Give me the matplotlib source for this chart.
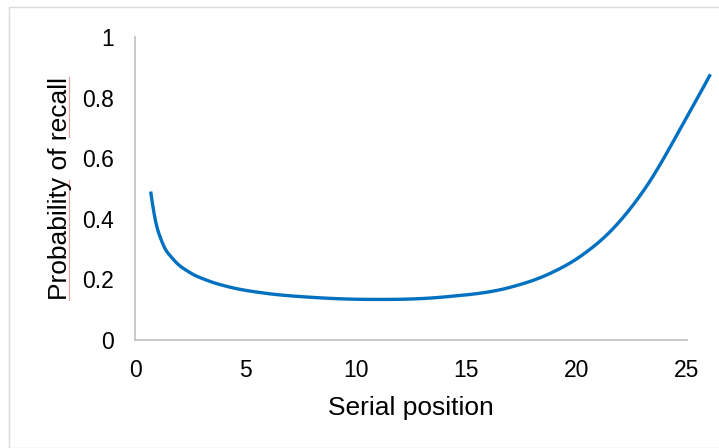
import matplotlib
matplotlib.use("Agg")
import matplotlib.pyplot as plt
import numpy as np
from matplotlib.patches import Rectangle
from matplotlib.lines import Line2D

# values
serial_pos = [0.71, 0.91, 1.25, 1.74, 2.5, 3.26, 4.32, 5.83, 7.95, 10.5, 14.0, 17.0,
              18.64, 20.15, 21.67, 23.1, 24.92, 26.06]
p_recall = [0.490, 0.400, 0.319, 0.266, 0.222, 0.197, 0.174, 0.155, 0.141, 0.134, 0.142,
            0.174, 0.2145, 0.275, 0.369, 0.500, 0.726, 0.877]
x_ticks = [0, 5, 10, 15, 20, 25]
y_ticks = [0, 0.2, 0.4, 0.6, 0.8, 1]
y_tick_labels = ["0", "0.2", "0.4", "0.6", "0.8", "1"]


def smooth(xs, ys, n=60):
    """ cubic Hermite through the points, slopes from np.gradient """
    xs = np.asarray(xs, float)
    ys = np.asarray(ys, float)
    m = np.gradient(ys, xs, edge_order=2)
    outx, outy = [], []
    for i in range(len(xs) - 1):
        h = xs[i + 1] - xs[i]
        t = np.linspace(0, 1, n)
        h00 = 2 * t**3 - 3 * t**2 + 1
        h10 = t**3 - 2 * t**2 + t
        h01 = -2 * t**3 + 3 * t**2
        h11 = t**3 - t**2
        outx.append(xs[i] + t * h)
        outy.append(h00 * ys[i] + h10 * h * m[i] + h01 * ys[i + 1] + h11 * h * m[i + 1])
    return np.concatenate(outx), np.concatenate(outy)


plt.rcParams['font.family'] = ['Liberation Sans', 'DejaVu Sans']

W, H = 719, 448
fig = plt.figure(figsize=(W / 100, H / 100), dpi=100)

# chart area border (runs off the right and bottom of the picture)
fig.patches.append(Rectangle((9 / W, 0), 1.0, 1 - 7 / H, transform=fig.transFigure,
                             fill=False, edgecolor='#D9D9D9', linewidth=1))

ax = fig.add_axes([135 / W, (H - 340) / H, 552 / W, 303 / H])
cx, cy = smooth(serial_pos, p_recall)
ax.plot(cx, cy, color='#0070C0', linewidth=2.4, clip_on=False, solid_capstyle='butt')

ax.set_xlim(0, 25)
ax.set_ylim(0, 1)
ax.set_xticks(x_ticks)
ax.set_yticks(y_ticks)
ax.set_yticklabels(y_tick_labels)
ax.tick_params(length=0, labelsize=16.5, colors='black')
ax.tick_params(axis='x', pad=14)
ax.tick_params(axis='y', pad=15)
for side in ['top', 'right']:
    ax.spines[side].set_visible(False)
for side in ['left', 'bottom']:
    ax.spines[side].set_color('#BFBFBF')
    ax.spines[side].set_linewidth(1.2)

# axis titles placed by baseline
fig.text(411 / W, 1 - 415 / H, 'Serial position', fontsize=19,
         ha='center', va='baseline')
fig.text(67 / W, 1 - 188.5 / H, 'Probability of recall', fontsize=19,
         rotation=90, rotation_mode='anchor', ha='center', va='baseline')

# spell-check marks under "Probability" and "recall"
for y0, y1 in [(180, 300), (77, 137)]:
    fig.add_artist(Line2D([69 / W, 69 / W], [1 - y0 / H, 1 - y1 / H],
                          transform=fig.transFigure, color='#F4A0A0', linewidth=0.8))

fig.savefig('out.png', dpi=100)
